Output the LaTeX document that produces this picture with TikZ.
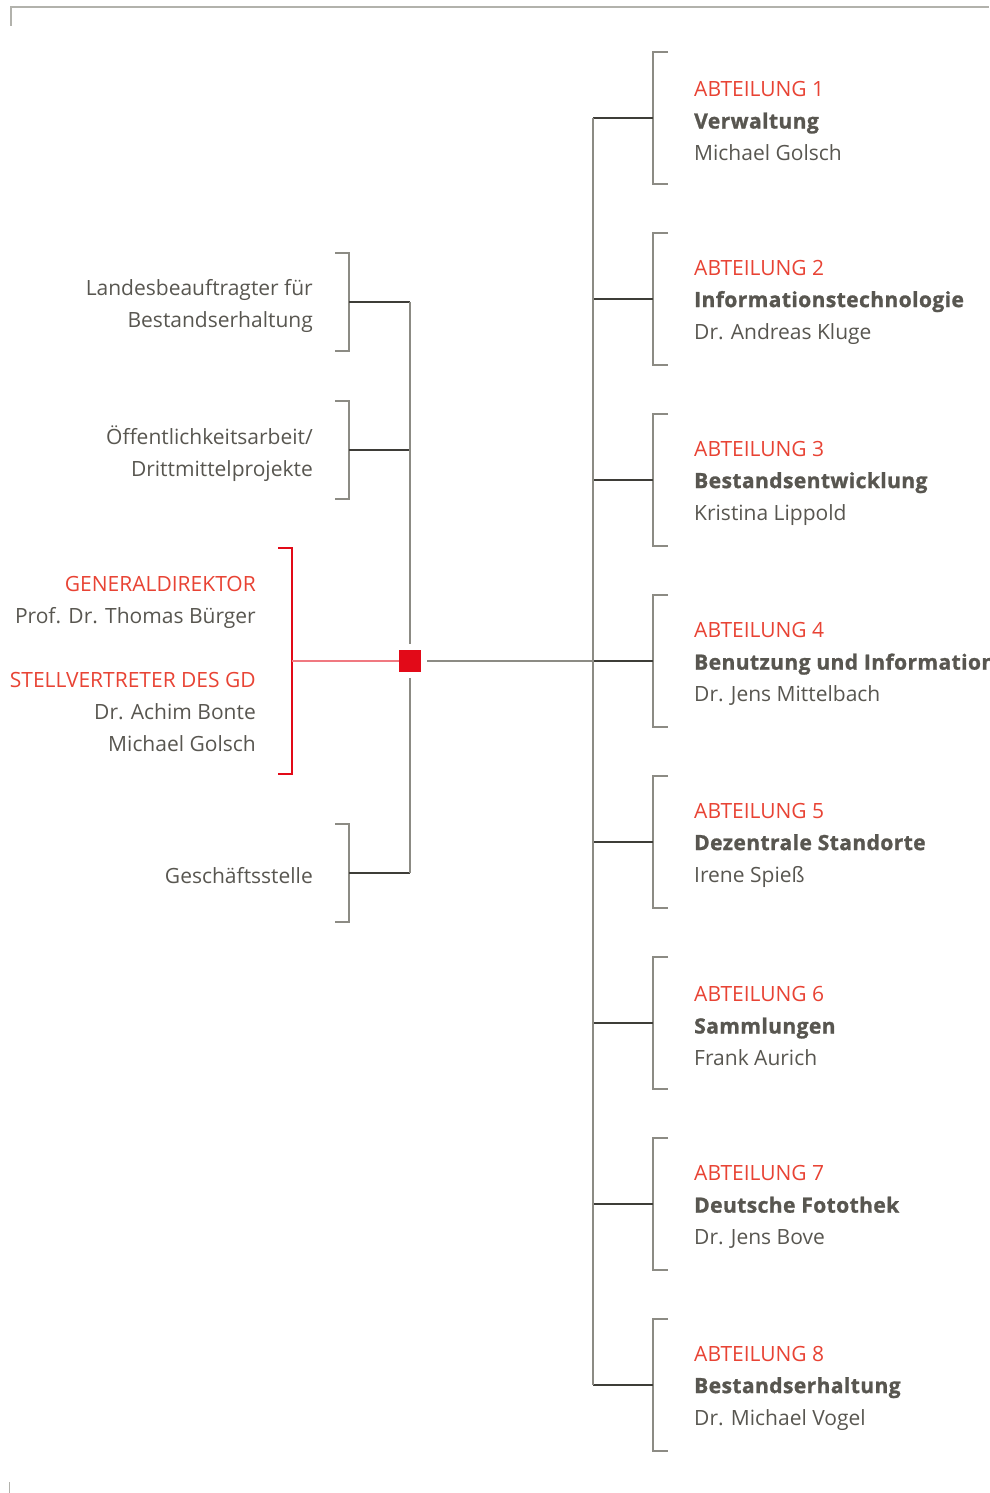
\documentclass[tikz,border=0pt]{standalone}
\usepackage{fontspec}
\setmainfont{Open Sans}[BoldFeatures={FakeBold=1.2, LetterSpace=2}]
\usetikzlibrary{positioning}

\definecolor{textgray}{RGB}{88,86,80}
\definecolor{textred}{RGB}{232,67,52}
\definecolor{linegray}{RGB}{140,139,132}
\definecolor{linkgray}{RGB}{62,61,56}
\definecolor{framegray}{RGB}{178,178,172}
\definecolor{squarered}{RGB}{226,10,24}
\definecolor{redlink}{RGB}{240,120,128}

\begin{document}
\begin{tikzpicture}[
        x=1pt, y=-1pt,
        every node/.style={inner sep=0pt, text=textgray,
            font=\fontsize{21}{32}\selectfont},
        bracket/.style={draw=linegray, line width=1.2pt},
        link/.style={draw=linkgray, line width=1.1pt},
        redbracket/.style={draw=squarered, line width=1.2pt},
        hub/.style={fill=squarered, minimum size=22pt}
    ]
    \useasboundingbox (0,0) rectangle (989,1493);

    \draw[framegray, line width=1.4pt] (11,26) -- (11,7) -- (989,7);
    \draw[framegray, line width=1pt] (9,1482) -- (9,1493);

    \foreach \i/\name/\head in {
            1/Verwaltung/Michael Golsch,
            2/Informationstechnologie/Dr. Andreas Kluge,
            3/Bestandsentwicklung/Kristina Lippold,
            4/Benutzung und Information/Dr. Jens Mittelbach,
            5/Dezentrale Standorte/Irene Spieß,
            6/Sammlungen/Frank Aurich,
            7/Deutsche Fotothek/Dr. Jens Bove,
            8/Bestandserhaltung/Dr. Michael Vogel} {
        \coordinate (abt\i) at (653, {118+181*(\i-1)});
        \coordinate (sp\i) at (593, {118+181*(\i-1)});
        \draw[bracket] (abt\i) ++(15,-66) -- ++(-15,0) -- ++(0,132) -- ++(15,0);
        \node[anchor=west, align=left] (abttext\i) at (694, {121+181*(\i-1)})
            {\textcolor{textred}{ABTEILUNG \i}\\\textbf{\name}\\\head};
        \draw[link] (sp\i) -- (abt\i);
    }
    \draw[bracket] (sp1) -- (sp8);

    \node[hub] (gd) at (410,661) {};

    \coordinate (stab1) at (349,302);
    \coordinate (stab2) at (349,450);
    \coordinate (stab3) at (349,873);
    \foreach \i in {1,2,3} {
        \draw[bracket] (stab\i) ++(-14,-49) -- ++(14,0) -- ++(0,98) -- ++(-14,0);
        \draw[link] (stab\i) -- (stab\i -| gd);
    }
    \node[anchor=east, align=right] (stabtext1) at (313,306)
        {Landesbeauftragter für\\Bestandserhaltung};
    \node[anchor=east, align=right] (stabtext2) at (313,454)
        {Öffentlichkeitsarbeit/\\Drittmittelprojekte};
    \node[anchor=east, align=right] (stabtext3) at (313,876) {Geschäftsstelle};

    \draw[bracket, shorten >=6pt] (stab1 -| gd) -- (gd.north);
    \draw[bracket, shorten <=6pt] (gd.south) -- (stab3 -| gd);
    \draw[bracket, shorten <=6pt] (gd.east) -- (sp4);

    \coordinate (leitung) at (292,661);
    \draw[redbracket] (leitung) ++(-14,-113) -- ++(14,0) -- ++(0,226) -- ++(-14,0);
    \draw[redlink, line width=1.1pt] (leitung) -- (gd.west);
    \node[anchor=east, align=right] (leitungtext) at (256,664)
        {\textcolor{textred}{GENERALDIREKTOR}\\Prof. Dr. Thomas Bürger\\[32pt]
         \textcolor{textred}{STELLVERTRETER DES GD}\\Dr. Achim Bonte\\Michael Golsch};
\end{tikzpicture}
\end{document}
